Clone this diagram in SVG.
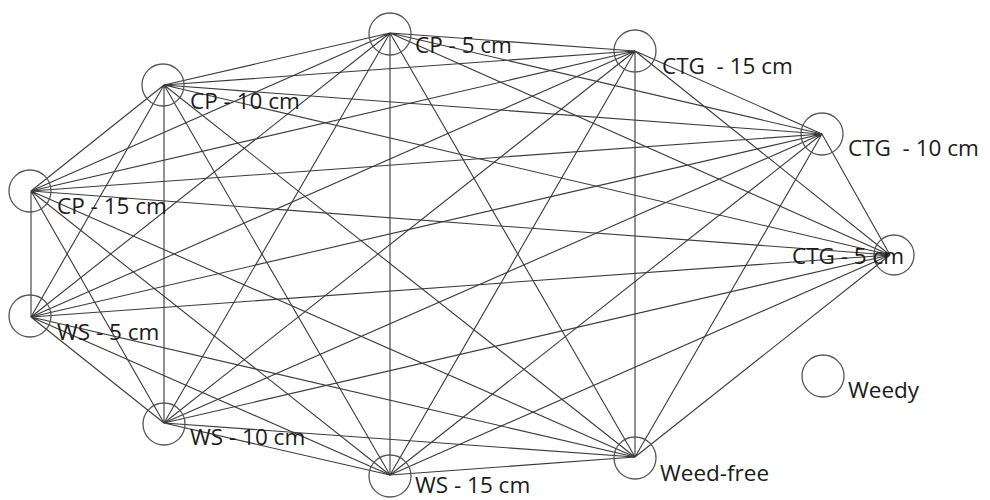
<svg xmlns="http://www.w3.org/2000/svg" width="990" height="500" viewBox="0 0 990 500">
<style>
.e{stroke:#3a3a3a;stroke-width:1.1;fill:none}
.n{fill:none;stroke:#555;stroke-width:1.3}
.t{font-family:"Open Sans","Noto Sans",sans-serif;font-size:22.5px;fill:#1a1a1a}
</style>
<rect width="990" height="500" fill="#fff"/>
<g id="edges">
<path class="e" d="M390,33L635,51M390,33L164,85M390,33L822,134M390,33L31,191M390,33L890,255M390,33L31,317M390,33L164,423M390,33L390,475M390,33L635,457"/>
<path class="e" d="M635,51L164,85M635,51L822,134M635,51L31,191M635,51L890,255M635,51L31,317M635,51L164,423M635,51L390,475M635,51L635,457"/>
<path class="e" d="M164,85L822,134M164,85L31,191M164,85L890,255M164,85L31,317M164,85L164,423M164,85L390,475M164,85L635,457"/>
<path class="e" d="M822,134L31,191M822,134L890,255M822,134L31,317M822,134L164,423M822,134L390,475M822,134L635,457"/>
<path class="e" d="M31,191L890,255M31,191L31,317M31,191L164,423M31,191L390,475M31,191L635,457"/>
<path class="e" d="M890,255L31,317M890,255L164,423M890,255L390,475M890,255L635,457"/>
<path class="e" d="M31,317L164,423M31,317L390,475M31,317L635,457"/>
<path class="e" d="M164,423L390,475M164,423L635,457"/>
<path class="e" d="M390,475L635,457"/>
</g>
<g id="cp5"><circle class="n" cx="390" cy="34" r="21"/><text class="t" x="415" y="53">CP - 5 cm</text></g>
<g id="ctg15"><circle class="n" cx="635" cy="51" r="21"/><text class="t" x="662" y="74" xml:space="preserve">CTG  - 15 cm</text></g>
<g id="cp10"><circle class="n" cx="163" cy="85" r="21"/><text class="t" x="190" y="109">CP - 10 cm</text></g>
<g id="ctg10"><circle class="n" cx="822" cy="134" r="21"/><text class="t" x="848" y="156" xml:space="preserve">CTG  - 10 cm</text></g>
<g id="cp15"><circle class="n" cx="30" cy="191" r="21"/><text class="t" x="57" y="214">CP - 15 cm</text></g>
<g id="ctg5"><circle class="n" cx="894" cy="255" r="20"/><text class="t" x="792" y="264">CTG - 5 cm</text></g>
<g id="ws5"><circle class="n" cx="30" cy="316" r="21"/><text class="t" x="57" y="340">WS - 5 cm</text></g>
<g id="weedy"><circle class="n" cx="823" cy="376" r="21"/><text class="t" x="848" y="398">Weedy</text></g>
<g id="ws10"><circle class="n" cx="164" cy="424" r="21"/><text class="t" x="190" y="445">WS - 10 cm</text></g>
<g id="ws15"><circle class="n" cx="390" cy="476" r="21"/><text class="t" x="415" y="493">WS - 15 cm</text></g>
<g id="weedfree"><circle class="n" cx="635" cy="458" r="21"/><text class="t" x="660" y="481">Weed-free</text></g>
</svg>
